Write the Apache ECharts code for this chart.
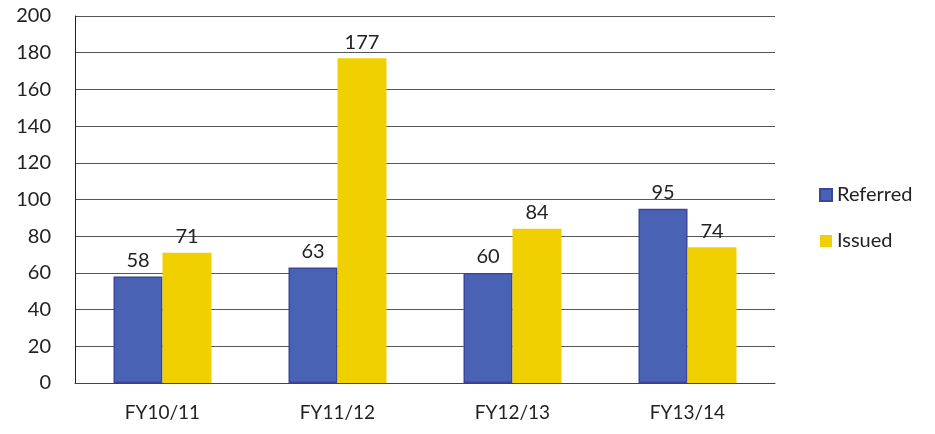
<!DOCTYPE html>
<html>
<head>
<meta charset="utf-8">
<script src="https://cdn.jsdelivr.net/npm/echarts@6/dist/echarts.min.js"></script>
<style>
  html, body { margin: 0; padding: 0; background: #fff; }
  #chart { width: 935px; height: 434px; }
</style>
</head>
<body>
<div id="chart"></div>
<script>
const years = ['FY10/11', 'FY11/12', 'FY12/13', 'FY13/14'];
const referred = [58, 63, 60, 95];
const issued = [71, 177, 84, 74];

const chart = echarts.init(document.getElementById('chart'));
const font = 'Lato, "Open Sans", sans-serif';

chart.setOption({
    animation: false,
    textStyle: { fontFamily: font },
    grid: { left: 75, right: 160, top: 16, bottom: 51 },
    legend: {
        orient: 'vertical',
        left: 814,
        top: 180,
        itemWidth: 12,
        itemHeight: 12,
        itemGap: 26,
        icon: 'rect',
        textStyle: { fontSize: 20, color: '#222', fontFamily: font },
        data: ['Referred', 'Issued']
    },
    xAxis: {
        type: 'category',
        data: years,
        axisLine: { lineStyle: { color: '#444' } },
        axisTick: { show: false },
        axisLabel: { fontSize: 19, color: '#222', margin: 20, fontFamily: font }
    },
    yAxis: {
        type: 'value',
        min: 0,
        max: 200,
        interval: 20,
        axisLine: { show: true, lineStyle: { color: '#222' } },
        axisTick: { show: false },
        axisLabel: { fontSize: 20, color: '#222', margin: 24, fontFamily: font },
        splitLine: { lineStyle: { color: '#555', width: 1 } }
    },
    series: [
        {
            name: 'Referred',
            type: 'bar',
            data: referred,
            barGap: '0%',
            barCategoryGap: '44%',
            itemStyle: { color: '#4a62b4', borderColor: '#3a469a', borderWidth: 1.5 },
            label: { show: true, position: 'top', fontSize: 20, color: '#222', distance: 6 }
        },
        {
            name: 'Issued',
            type: 'bar',
            data: issued,
            itemStyle: { color: '#f0d000' },
            label: { show: true, position: 'top', fontSize: 20, color: '#222', distance: 6 }
        }
    ]
});
</script>
</body>
</html>
